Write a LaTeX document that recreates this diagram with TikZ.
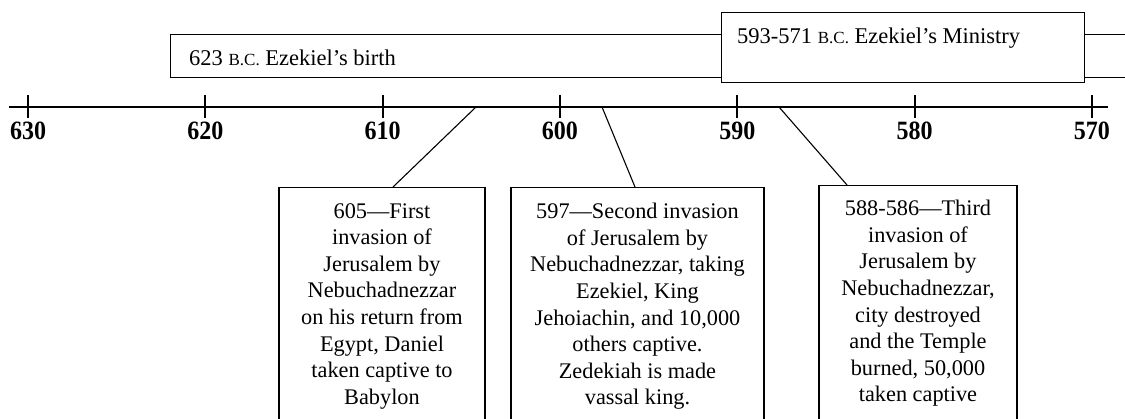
\documentclass[tikz,border=0pt]{standalone}
\usepackage{fontspec}
\setmainfont{Liberation Serif}
\usetikzlibrary{calc}
\newcommand{\bc}{{\fontsize{17}{17}\selectfont B.C.}}
\begin{document}
\begin{tikzpicture}[x=1pt,y=1pt,
  yr/.style={font=\fontsize{24}{24}\selectfont\bfseries, anchor=base, inner sep=0pt, yscale=1.1},
  frame/.style={draw, line width=1.3pt, fill=white, inner sep=0pt},
  evbox/.style={frame, anchor=north, minimum height=300pt},
  evtext/.style={anchor=north, align=center, font=\fontsize{22.3}{26.6}\selectfont, inner sep=0pt},
  toptext/.style={anchor=base west, font=\fontsize{22.5}{22.5}\selectfont, inner sep=0pt},
  axisline/.style={line width=1.8pt},
  link/.style={line width=1.1pt},
]
\clip (0,0) rectangle (1125,-419);
\fill[white] (0,0) rectangle (1125,-419);
% top period boxes
\node[frame, minimum width=1000pt, minimum height=43pt, anchor=north west] (birth) at (170,-34) {};
\node[toptext] (birthtxt) at (189,-66) {623 \bc\ Ezekiel’s birth};
\node[frame, minimum width=363pt, minimum height=70pt, anchor=north west] (ministry) at (721,-12) {};
\node[toptext] (ministrytxt) at (737,-44) {593-571 \bc\ Ezekiel’s Ministry};
% axis
\coordinate (axL) at (9,-107);
\coordinate (axR) at (1108,-107);
\draw[axisline] (axL) -- (axR);
\foreach \i/\y in {0/630,1/620,2/610,3/600,4/590,5/580,6/570}{
  \coordinate (t\y) at (28+177.33*\i,-107);
  \draw[axisline] ([yshift=12]t\y) -- ([yshift=-11]t\y);
  \node[yr] (l\y) at ([yshift=-33]t\y) {\y};
}
% event boxes
\node[evbox, minimum width=206pt] (e1) at (382,-187) {};
\node[evtext] (e1t) at (382,-203) {605—First\\invasion of\\Jerusalem by\\Nebuchadnezzar\\on his return from\\Egypt, Daniel\\taken captive to\\Babylon};
\node[evbox, minimum width=253pt] (e2) at (637.5,-187) {};
\node[evtext] (e2t) at (637.5,-203) {597—Second invasion\\of Jerusalem by\\Nebuchadnezzar, taking\\Ezekiel, King\\Jehoiachin, and 10,000\\others captive.\\Zedekiah is made\\vassal king.};
\node[evbox, minimum width=198pt] (e3) at (918,-185) {};
\node[evtext] (e3t) at (918,-200) {588-586—Third\\invasion of\\Jerusalem by\\Nebuchadnezzar,\\city destroyed\\and the Temple\\burned, 50,000\\taken captive};
% connectors
\coordinate (a1) at (476,-107);
\coordinate (a2) at (602,-107);
\coordinate (a3) at (779,-107);
\draw[link] (a1) -- ([xshift=11pt]e1.north);
\draw[link] (a2) -- ([xshift=-2.5pt]e2.north);
\draw[link] (a3) -- ([xshift=-71pt]e3.north);
\end{tikzpicture}
\end{document}
